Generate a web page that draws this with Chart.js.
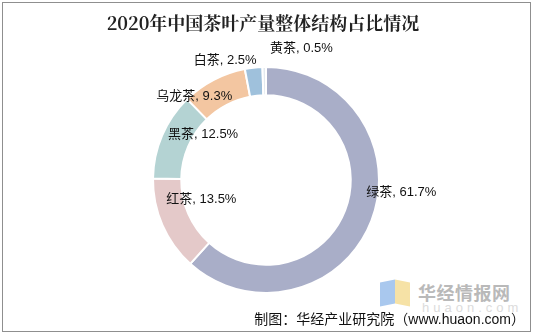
<!DOCTYPE html>
<html>
<head>
<meta charset="utf-8">
<script src="https://cdn.jsdelivr.net/npm/chart.js@4.4.1/dist/chart.umd.min.js"></script>
<style>
  html, body { margin: 0; padding: 0; background: #fff; }
  #wrap { position: relative; width: 533px; height: 336px; overflow: hidden; background: #fff; }
  #frame { position: absolute; left: 2px; top: 2px; width: 527px; height: 328px; border: 1.5px solid #8f8f8f; }
  #title { position: absolute; left: 0; top: 11px; width: 526px; text-align: center;
    font-family: "Noto Serif CJK SC", "Noto Sans CJK SC", serif; font-weight: 700; font-size: 18px; color: #222; line-height: 22px; }
  #wm { position: absolute; left: 378px; top: 278px; width: 150px; height: 40px; }
  #wm .b { position: absolute; left: 2px; top: 3px; width: 15px; height: 24px; background: #a9c8ee; transform: skewY(-12deg); }
  #wm .y { position: absolute; left: 17px; top: 3px; width: 15px; height: 24px; background: #f6e2a6; transform: skewY(12deg); }
  #wm .t { position: absolute; left: 40px; top: 3px; font-family: "Noto Sans CJK SC", sans-serif; font-weight: 700;
    font-size: 18px; color: #b9b9b9; line-height: 22px; letter-spacing: 0.5px; }
  #wm .u { position: absolute; left: 44px; top: 23px; font-family: "Liberation Sans", sans-serif; font-size: 13px;
    color: #dcdcdc; letter-spacing: 4px; line-height: 14px; }
  #src { position: absolute; right: 8px; top: 310px; font-family: "Liberation Sans", "Noto Sans CJK SC", sans-serif;
    font-size: 14px; color: #111; line-height: 18px; white-space: nowrap; }
  #c { position: absolute; left: 0; top: 0; }
</style>
</head>
<body>
<div id="wrap">
  <div id="wm"><div class="b"></div><div class="y"></div><div class="t">华经情报网</div><div class="u">huaon.com</div></div>
  <canvas id="c" width="533" height="336"></canvas>
  <div id="frame"></div>
  <div id="title">2020年中国茶叶产量整体结构占比情况</div>
  <div id="src">制图：华经产业研究院（www.huaon.com）</div>
</div>
<script>
// ---- data ----
const categories = ["绿茶", "红茶", "黑茶", "乌龙茶", "白茶", "黄茶"];
const shares = [61.7, 13.5, 12.5, 9.3, 2.5, 0.5];
// ---- style ----
const sliceColors = ["#a9aec8", "#e4c9c9", "#b4d3d3", "#f3c6a1", "#9fc1dc", "#e3e9ef"];
// label offset from each slice's mid point (px)
const labelDx = [43, 26, 28, -26, -30, 37];
const labelDy = [-23, -20, -7, 4, -21, -33];

const labelPlugin = {
  id: "sliceLabels",
  afterDatasetsDraw(chart) {
    const ctx = chart.ctx;
    const meta = chart.getDatasetMeta(0);
    ctx.save();
    ctx.font = '13px "Liberation Sans", "Noto Sans CJK SC", sans-serif';
    ctx.fillStyle = "#111";
    ctx.textAlign = "center";
    ctx.textBaseline = "middle";
    meta.data.forEach((arc, i) => {
      const p = arc.tooltipPosition();
      const txt = categories[i] + ", " + shares[i].toFixed(1) + "%";
      ctx.fillText(txt, p.x + labelDx[i], p.y + labelDy[i]);
    });
    ctx.restore();
  }
};

new Chart(document.getElementById("c"), {
  type: "doughnut",
  data: {
    labels: categories,
    datasets: [{
      data: shares,
      backgroundColor: sliceColors,
      borderColor: "#ffffff",
      borderWidth: 2
    }]
  },
  options: {
    responsive: false,
    animation: false,
    cutout: "75%",
    rotation: 0,
    layout: { padding: { left: 152, top: 66, right: 153, bottom: 42 } },
    plugins: { legend: { display: false }, tooltip: { enabled: false }, title: { display: false } }
  },
  plugins: [labelPlugin]
});
</script>
</body>
</html>
